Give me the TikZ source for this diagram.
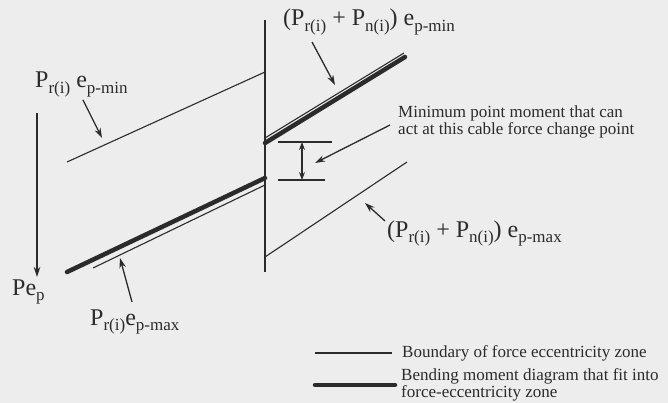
\documentclass[tikz,border=0pt]{standalone}
\usepackage{fontspec}
\setmainfont{Liberation Serif}
\usetikzlibrary{arrows.meta, positioning}
\definecolor{inkgray}{HTML}{2b2b2b}
\definecolor{paper}{HTML}{ededed}
\newcommand{\lowtxt}[1]{\raisebox{-0.22em}{\fontsize{17}{17}\selectfont #1}}

\begin{document}
\begin{tikzpicture}[
    x=1pt, y=-1pt,
    bound/.style={draw=inkgray, line width=1.1pt},
    bmd/.style={draw=inkgray, line width=4.5pt, line cap=round},
    arr/.style={-{Stealth[length=10pt, width=6.5pt]}, draw=inkgray, line width=1.3pt},
    dimarr/.style={{Stealth[length=8pt, width=6pt]}-{Stealth[length=8pt, width=6pt]}, draw=inkgray, line width=1.1pt},
    lbl/.style={inner sep=0pt, text=inkgray, font=\fontsize{24}{24}\selectfont},
    txt/.style={inner sep=0pt, text=inkgray, align=left, font=\fontsize{17}{15}\selectfont},
  ]
  \fill[paper] (0,0) rectangle (668,403);
  \useasboundingbox (0,0) rectangle (668,403);

  % cable force change point
  \coordinate (axtop) at (265,20);
  \coordinate (axbot) at (265,272);
  \draw[bound] (axtop) -- (axbot);

  % left span
  \coordinate (lminA) at (67,162);
  \coordinate (lminB) at (265,72);
  \coordinate (lbmdA) at (67,272);
  \coordinate (lbmdB) at (265,178);
  \coordinate (lmaxA) at (93,268);
  \coordinate (lmaxB) at (265,185);
  \draw[bound] (lminA) -- (lminB);
  \draw[bmd] (lbmdA) -- (lbmdB);
  \draw[bound] (lmaxA) -- (lmaxB);

  % right span
  \coordinate (rbmdA) at (265,143);
  \coordinate (rbmdB) at (405,57);
  \coordinate (rminA) at (265,138);
  \coordinate (rminB) at (404,53);
  \coordinate (rmaxA) at (265,257);
  \coordinate (rmaxB) at (407,162);
  \draw[bmd] (rbmdA) -- (rbmdB);
  \draw[bound] (rminA) -- (rminB);
  \draw[bound] (rmaxA) -- (rmaxB);

  % minimum point moment
  \coordinate (tickTA) at (278,142);
  \coordinate (tickTB) at (332,142);
  \coordinate (tickBA) at (278,180);
  \coordinate (tickBB) at (325,180);
  \coordinate (dimT) at (302,142);
  \coordinate (dimB) at (302,180);
  \draw[bound] (tickTA) -- (tickTB);
  \draw[bound] (tickBA) -- (tickBB);
  \draw[dimarr] (dimT) -- (dimB);

  % labels
  \node[lbl, anchor=base west] (prmin) at (35,88) {P\lowtxt{r(i)} e\lowtxt{p-min}};
  \node[lbl, anchor=base west] (ppnmin) at (283,26) {(P\lowtxt{r(i)} + P\lowtxt{n(i)}) e\lowtxt{p-min}};
  \node[txt, anchor=north west] (minpt) at (398,106) {Minimum point moment that can\\act at this cable force change point};
  \node[lbl, anchor=base west] (ppnmax) at (387,237) {(P\lowtxt{r(i)} + P\lowtxt{n(i)}) e\lowtxt{p-max}};
  \node[lbl, anchor=base west] (pep) at (12,295) {Pe\lowtxt{p}};
  \node[lbl, anchor=base west] (prmax) at (90,325) {P\lowtxt{r(i)}e\lowtxt{p-max}};

  % pointers
  \coordinate (prminFrom) at (83,100);
  \coordinate (prminTo) at (102,138);
  \coordinate (ppnminFrom) at (312,42);
  \coordinate (ppnminTo) at (335,85);
  \coordinate (minptFrom) at (390,125);
  \coordinate (minptTo) at (315,163);
  \coordinate (ppnmaxFrom) at (385,221);
  \coordinate (ppnmaxTo) at (365,203);
  \coordinate (pepFrom) at (37,113);
  \coordinate (pepTo) at (37,277);
  \coordinate (prmaxFrom) at (132,302);
  \coordinate (prmaxTo) at (120,258);
  \draw[arr] (prminFrom) -- (prminTo);
  \draw[arr] (ppnminFrom) -- (ppnminTo);
  \draw[arr] (minptFrom) -- (minptTo);
  \draw[arr] (ppnmaxFrom) -- (ppnmaxTo);
  \draw[arr] (pepFrom) -- (pepTo);
  \draw[arr] (prmaxFrom) -- (prmaxTo);

  % Legend
  \coordinate (legThinA) at (315,353);
  \coordinate (legThinB) at (392,353);
  \coordinate (legThickA) at (315,385);
  \coordinate (legThickB) at (395,385);
  \draw[bound] (legThinA) -- (legThinB);
  \draw[bmd] (legThickA) -- (legThickB);
  \node[txt, anchor=west, right=10pt of legThinB] (legbound) {Boundary of force eccentricity zone};
  \node[txt, anchor=west, right=6pt of legThickB] (legbmd) {Bending moment diagram that fit into\\force-eccentricity zone};
\end{tikzpicture}
\end{document}
